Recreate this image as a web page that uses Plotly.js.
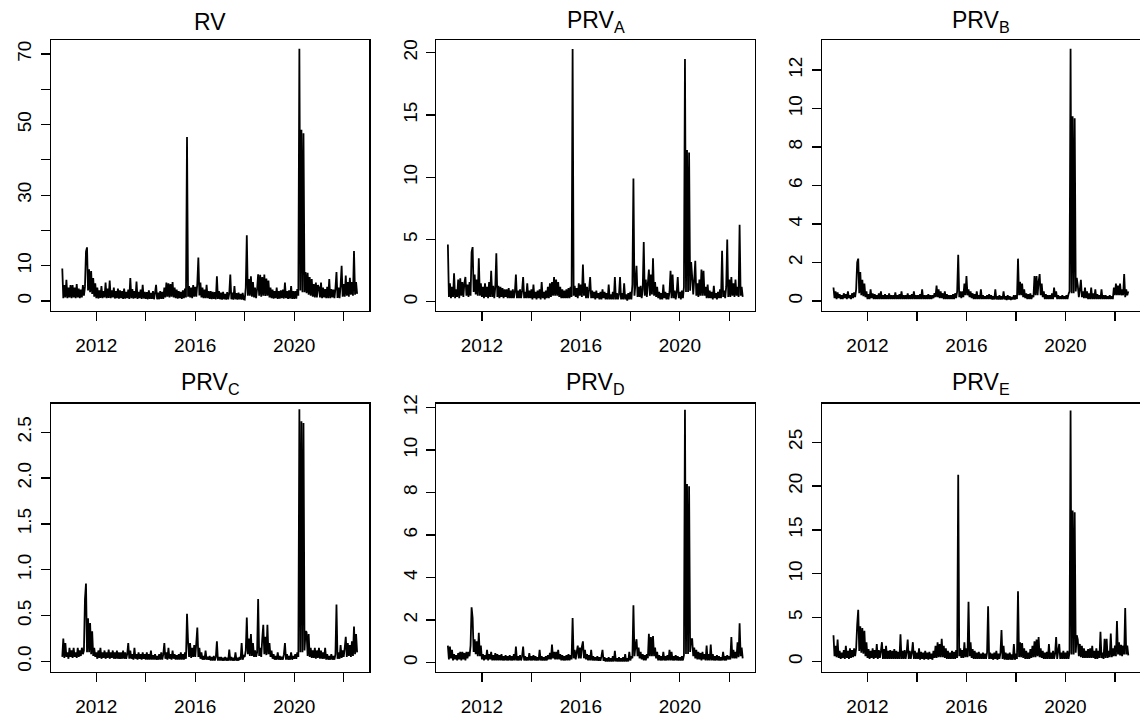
<!DOCTYPE html>
<html>
<head>
<meta charset="utf-8">
<script src="https://cdn.plot.ly/plotly-3.0.1.min.js"></script>
<style>html,body{margin:0;padding:0;background:#fff;}#chart{width:1140px;height:719px;}</style>
</head>
<body>
<div id="chart"></div>
<script>
// Semi-monthly observations (1st and 16th of each month), Aug-16 2010 .. Jul-16 2022
const seriesStart = 2010 + 15 / 24;
const seriesFreq = 24;

const titles = ['RV', 'PRV<sub>A</sub>', 'PRV<sub>B</sub>', 'PRV<sub>C</sub>', 'PRV<sub>D</sub>', 'PRV<sub>E</sub>'];

const rv = [
  9.2, 0.8, 4.5, 1.0, 6.0, 0.8, 3.8, 1.0, 4.5,
  0.8, 4.5, 1.0, 3.8, 0.8, 4.8, 1.0, 3.5, 0.8, 3.2, 1.0, 4.5, 1.5, 4.0, 14.0, 15.2, 3.0, 9.0, 2.5, 8.5, 2.0, 6.5, 1.2, 5.0,
  0.8, 3.8, 0.7, 3.0, 0.9, 4.2, 0.8, 2.8, 1.0, 5.2, 0.8, 3.5, 0.9, 5.8, 0.8, 3.0, 1.0, 3.8, 0.7, 2.8, 0.8, 3.5, 0.7, 3.0,
  0.8, 2.8, 0.6, 3.5, 0.7, 2.6, 0.8, 3.2, 0.6, 6.5, 0.8, 3.4, 0.7, 2.8, 0.8, 5.5, 0.6, 2.6, 0.8, 3.2, 0.6, 4.6, 0.7, 2.6,
  0.6, 2.5, 0.5, 3.0, 0.6, 2.3, 0.6, 2.8, 0.5, 2.4, 4.6, 0.5, 2.4, 0.5, 2.8, 0.6, 2.6, 0.6, 3.8, 1.0, 5.2, 1.2, 5.0, 1.0,
  4.8, 1.2, 5.4, 1.0, 3.8, 0.8, 3.2, 0.7, 2.8, 0.8, 2.6, 0.6, 3.0, 0.8, 3.5, 1.0, 46.5, 1.2, 4.2, 1.0, 3.8, 0.8, 4.5, 1.2,
  4.0, 1.2, 5.0, 12.3, 1.6, 5.2, 1.0, 3.8, 0.8, 3.2, 0.8, 4.6, 0.8, 2.8, 0.6, 2.8, 0.5, 2.6, 0.6, 2.5, 0.5, 7.0, 0.6, 2.8,
  0.5, 2.4, 0.4, 2.6, 0.5, 2.0, 0.4, 2.5, 0.5, 2.2, 7.5, 0.5, 2.4, 0.4, 4.2, 0.5, 2.2, 0.4, 2.4, 0.5, 2.0, 0.4, 2.3, 0.5,
  0.4, 3.8, 18.6, 1.5, 6.2, 1.5, 7.0, 1.2, 5.4, 1.0, 3.8, 0.8, 3.4, 7.6, 1.5, 7.4, 1.2, 6.8, 1.5, 7.5, 1.4, 6.4, 1.5, 5.8,
  1.0, 3.8, 0.8, 3.2, 0.7, 2.8, 0.8, 3.8, 0.6, 2.8, 0.7, 3.0, 0.8, 3.2, 0.7, 5.2, 0.8, 2.8, 0.6, 3.0, 0.7, 4.2, 0.6, 2.8,
  0.6, 2.8, 0.7, 3.4, 1.5, 71.5, 3.0, 48.5, 2.5, 47.5, 2.5, 8.2, 2.2, 8.0, 1.8, 6.8, 1.5, 6.2, 1.2, 4.8, 1.0, 5.2, 1.0, 4.5,
  3.8, 1.0, 5.2, 0.8, 3.8, 1.0, 3.4, 0.8, 4.0, 0.8, 6.2, 0.8, 3.4, 1.0, 3.2, 0.8, 3.6, 8.2, 0.9, 3.8, 0.8, 4.4, 10.0, 1.2,
  4.8, 1.2, 7.2, 1.5, 5.4, 1.2, 6.6, 1.8, 5.4, 1.5, 14.2, 1.8, 5.4, 2.0
];

const prvA = [
  4.6, 0.4, 1.5, 0.3, 1.2, 0.4, 2.3, 0.3, 1.0,
  0.4, 1.8, 0.3, 1.9, 0.5, 1.6, 0.4, 1.5, 2.0, 0.5, 1.4, 0.4, 1.6, 0.5, 4.0, 4.4, 0.8, 2.2, 0.6, 1.8, 0.5, 3.5, 0.5, 1.5,
  0.4, 1.2, 0.3, 1.5, 0.4, 1.2, 0.3, 1.6, 0.4, 2.5, 0.4, 1.3, 0.3, 1.2, 3.9, 0.4, 1.3, 0.3, 1.2, 0.4, 1.1, 0.3, 1.0, 0.4,
  1.0, 0.3, 1.1, 0.3, 0.9, 0.3, 1.0, 0.3, 0.8, 2.2, 0.3, 0.9, 0.3, 1.0, 0.3, 0.9, 2.0, 0.3, 0.8, 0.3, 1.5, 0.3, 0.9, 0.3,
  1.0, 0.2, 1.4, 0.3, 0.8, 0.2, 0.9, 0.3, 1.0, 0.2, 1.6, 0.3, 0.8, 0.2, 0.9, 0.3, 1.2, 0.3, 1.5, 0.4, 1.6, 0.5, 2.0, 0.5,
  1.8, 0.5, 1.6, 0.4, 1.2, 0.3, 1.0, 0.3, 0.9, 0.3, 1.0, 0.3, 1.1, 0.3, 1.2, 0.4, 20.3, 0.5, 1.3, 0.4, 1.1, 0.3, 1.5, 0.5,
  1.4, 0.4, 3.0, 0.5, 1.5, 0.3, 1.2, 0.3, 1.0, 2.0, 0.3, 0.9, 0.3, 0.8, 0.2, 0.9, 0.3, 0.7, 0.2, 0.8, 0.2, 1.0, 0.3, 0.8,
  0.2, 0.7, 0.2, 1.4, 0.2, 0.6, 0.2, 0.8, 0.2, 2.0, 0.2, 0.7, 0.2, 0.6, 2.0, 0.2, 0.7, 0.2, 1.5, 0.2, 0.6, 0.1, 0.7, 0.2,
  0.8, 0.2, 1.4, 9.9, 0.5, 1.5, 2.9, 0.4, 1.2, 0.4, 1.3, 0.3, 1.0, 4.8, 0.5, 1.8, 0.4, 1.5, 2.6, 0.5, 2.2, 0.6, 3.5, 0.5,
  1.6, 0.4, 1.2, 0.3, 0.8, 0.2, 0.7, 0.2, 1.4, 0.3, 0.8, 0.2, 0.7, 0.2, 0.8, 2.5, 0.3, 2.2, 0.3, 0.9, 0.2, 0.8, 2.0, 0.3,
  0.8, 0.2, 0.9, 0.3, 1.2, 19.5, 0.8, 12.2, 0.8, 12.0, 0.9, 3.2, 2.0, 0.6, 1.8, 3.3, 0.5, 1.5, 0.4, 1.8, 0.5, 2.6, 0.5, 2.5,
  0.5, 1.2, 0.3, 1.4, 0.3, 0.9, 0.3, 0.8, 0.2, 1.3, 0.3, 0.7, 0.2, 0.8, 0.3, 1.0, 0.3, 4.1, 0.4, 0.9, 0.3, 1.2, 5.0, 0.4,
  1.8, 0.4, 2.0, 0.5, 1.5, 0.4, 1.8, 0.5, 1.2, 0.4, 6.2, 0.5, 1.2, 0.4
];

const prvB = [
  0.7, 0.15, 0.5, 0.1, 0.45, 0.15, 0.35, 0.1, 0.3,
  0.1, 0.4, 0.15, 0.35, 0.1, 0.5, 0.15, 0.3, 0.1, 0.4, 0.15, 0.45, 0.2, 0.6, 2.0, 2.2, 0.4, 1.5, 0.3, 1.1, 0.25, 0.9, 0.2, 0.5,
  0.1, 0.35, 0.1, 0.6, 0.15, 0.4, 0.1, 0.35, 0.1, 0.3, 0.1, 0.4, 0.1, 0.5, 0.1, 0.3, 0.1, 0.35, 0.1, 0.3, 0.1, 0.4, 0.1, 0.3,
  0.1, 0.3, 0.1, 0.45, 0.1, 0.3, 0.1, 0.35, 0.1, 0.5, 0.1, 0.3, 0.1, 0.3, 0.1, 0.4, 0.1, 0.3, 0.1, 0.35, 0.1, 0.5, 0.1, 0.3,
  0.1, 0.3, 0.1, 0.35, 0.1, 0.6, 0.1, 0.3, 0.1, 0.3, 0.1, 0.35, 0.1, 0.3, 0.1, 0.3, 0.15, 0.4, 0.2, 0.8, 0.2, 0.6, 0.15, 0.5,
  0.15, 0.4, 0.1, 0.5, 0.1, 0.35, 0.1, 0.3, 0.1, 0.3, 0.1, 0.35, 0.1, 0.4, 0.15, 0.5, 2.4, 0.2, 0.5, 0.15, 0.5, 0.2, 0.9, 0.3,
  1.3, 0.3, 0.6, 0.2, 0.5, 0.15, 0.4, 0.1, 0.35, 0.1, 0.5, 0.1, 0.3, 0.1, 0.6, 0.1, 0.3, 0.1, 0.25, 0.1, 0.3, 0.1, 0.35, 0.1,
  0.3, 0.08, 0.25, 0.08, 0.6, 0.08, 0.25, 0.08, 0.3, 0.08, 0.25, 0.08, 0.5, 0.08, 0.25, 0.05, 0.3, 0.08, 0.25, 0.05, 0.2, 0.08, 0.3, 0.08,
  0.3, 0.1, 2.2, 0.3, 1.0, 0.3, 0.9, 0.2, 0.6, 0.15, 0.4, 0.1, 0.35, 0.1, 0.4, 0.1, 0.3, 0.2, 1.3, 0.3, 1.3, 0.3, 1.0, 1.4,
  0.3, 0.9, 0.2, 0.5, 0.1, 0.35, 0.1, 0.3, 0.1, 0.3, 0.1, 0.4, 0.1, 0.7, 0.2, 0.5, 0.1, 0.3, 0.1, 0.25, 0.1, 0.3, 0.1, 0.25,
  0.1, 0.3, 0.1, 0.35, 0.5, 13.1, 0.4, 9.6, 0.4, 9.5, 0.5, 1.2, 0.8, 0.2, 0.6, 1.1, 0.2, 0.5, 0.15, 0.7, 0.15, 0.5, 0.1, 0.4,
  0.1, 0.7, 0.1, 0.4, 0.1, 0.6, 0.1, 0.35, 0.1, 0.3, 0.1, 0.6, 0.1, 0.3, 0.1, 0.3, 0.1, 0.25, 0.1, 0.3, 0.1, 0.25, 0.1, 0.7,
  0.3, 0.9, 0.3, 0.8, 0.3, 0.9, 0.3, 0.6, 0.3, 1.4, 0.2, 0.6, 0.3, 0.5
];

const prvC = [
  0.05, 0.25, 0.04, 0.2, 0.05, 0.1, 0.03, 0.15, 0.05,
  0.12, 0.04, 0.15, 0.05, 0.1, 0.04, 0.15, 0.05, 0.12, 0.06, 0.15, 0.08, 0.12, 0.68, 0.85, 0.1, 0.47, 0.1, 0.42, 0.08, 0.33, 0.06, 0.15, 0.05,
  0.1, 0.03, 0.12, 0.04, 0.15, 0.03, 0.1, 0.04, 0.12, 0.03, 0.1, 0.04, 0.13, 0.03, 0.1, 0.04, 0.12, 0.03, 0.1, 0.03, 0.12, 0.03, 0.1, 0.03,
  0.1, 0.03, 0.12, 0.03, 0.1, 0.03, 0.08, 0.2, 0.03, 0.12, 0.03, 0.08, 0.02, 0.15, 0.03, 0.08, 0.02, 0.1, 0.03, 0.08, 0.02, 0.1, 0.03, 0.08,
  0.02, 0.1, 0.02, 0.08, 0.02, 0.12, 0.02, 0.07, 0.02, 0.08, 0.02, 0.06, 0.02, 0.08, 0.02, 0.1, 0.02, 0.08, 0.2, 0.03, 0.1, 0.02, 0.15, 0.03,
  0.08, 0.02, 0.12, 0.03, 0.08, 0.02, 0.07, 0.02, 0.08, 0.02, 0.1, 0.02, 0.08, 0.02, 0.1, 0.03, 0.52, 0.22, 0.05, 0.2, 0.04, 0.15, 0.05, 0.18,
  0.05, 0.2, 0.37, 0.05, 0.15, 0.03, 0.1, 0.02, 0.06, 0.02, 0.12, 0.02, 0.05, 0.02, 0.06, 0.01, 0.05, 0.01, 0.06, 0.01, 0.05, 0.22, 0.01, 0.05,
  0.01, 0.05, 0.01, 0.04, 0.01, 0.05, 0.01, 0.04, 0.01, 0.13, 0.01, 0.05, 0.01, 0.04, 0.01, 0.1, 0.01, 0.04, 0.01, 0.05, 0.02, 0.2, 0.02, 0.06,
  0.05, 0.12, 0.48, 0.08, 0.25, 0.06, 0.3, 0.06, 0.2, 0.05, 0.12, 0.05, 0.1, 0.68, 0.06, 0.15, 0.05, 0.25, 0.4, 0.08, 0.27, 0.07, 0.4, 0.08,
  0.2, 0.05, 0.12, 0.03, 0.08, 0.02, 0.06, 0.02, 0.1, 0.02, 0.06, 0.02, 0.05, 0.02, 0.08, 0.2, 0.02, 0.08, 0.02, 0.06, 0.02, 0.1, 0.02, 0.06,
  0.03, 0.08, 0.03, 0.1, 0.05, 2.75, 0.1, 2.62, 0.1, 2.6, 0.12, 0.33, 0.32, 0.06, 0.3, 0.05, 0.15, 0.04, 0.12, 0.04, 0.15, 0.03, 0.12, 0.04,
  0.15, 0.03, 0.12, 0.03, 0.1, 0.03, 0.15, 0.02, 0.08, 0.02, 0.06, 0.02, 0.08, 0.02, 0.06, 0.02, 0.08, 0.62, 0.03, 0.1, 0.03, 0.18, 0.04, 0.12,
  0.05, 0.15, 0.27, 0.05, 0.2, 0.06, 0.18, 0.05, 0.22, 0.06, 0.38, 0.08, 0.3, 0.1
];

const prvD = [
  0.8, 0.15, 0.75, 0.2, 0.6, 0.1, 0.4, 0.15, 0.35,
  0.1, 0.45, 0.15, 0.5, 0.1, 0.5, 0.15, 0.45, 0.1, 0.5, 0.2, 0.5, 0.3, 0.8, 2.6, 2.1, 0.5, 1.1, 0.4, 1.0, 0.3, 1.4, 0.3, 0.8,
  0.15, 0.4, 0.1, 0.35, 0.15, 0.6, 0.1, 0.4, 0.15, 0.5, 0.1, 0.35, 0.1, 0.45, 0.1, 0.4, 0.1, 0.35, 0.1, 0.4, 0.1, 0.3, 0.1, 0.35,
  0.1, 0.3, 0.1, 0.35, 0.1, 0.3, 0.1, 0.4, 0.1, 0.75, 0.1, 0.3, 0.1, 0.35, 0.1, 0.3, 0.75, 0.1, 0.3, 0.1, 0.25, 0.1, 0.45, 0.1,
  0.3, 0.1, 0.35, 0.1, 0.3, 0.1, 0.25, 0.1, 0.6, 0.1, 0.3, 0.1, 0.25, 0.1, 0.3, 0.1, 0.35, 0.15, 0.45, 0.15, 0.85, 0.2, 0.5, 0.15,
  0.5, 0.15, 0.6, 0.15, 0.4, 0.1, 0.35, 0.1, 0.3, 0.1, 0.35, 0.1, 0.4, 0.1, 0.35, 0.15, 2.1, 0.2, 0.6, 0.15, 0.5, 0.8, 0.2, 0.7,
  0.2, 0.75, 1.0, 0.2, 0.6, 0.15, 0.4, 0.1, 0.35, 0.1, 0.6, 0.1, 0.3, 0.1, 0.25, 0.1, 0.3, 0.08, 0.25, 0.08, 0.3, 0.6, 0.08, 0.25,
  0.05, 0.2, 0.05, 0.25, 0.05, 0.2, 0.05, 0.3, 0.05, 0.55, 0.05, 0.2, 0.05, 0.25, 0.05, 0.2, 0.05, 0.25, 0.05, 0.4, 0.05, 0.2, 0.05, 0.5,
  0.1, 0.3, 0.2, 2.7, 0.3, 0.8, 1.1, 0.3, 0.7, 0.2, 0.5, 0.15, 0.4, 0.1, 0.35, 0.1, 0.4, 0.2, 1.35, 0.3, 1.2, 0.3, 1.25, 0.3,
  0.7, 0.2, 0.5, 0.1, 0.35, 0.1, 0.3, 0.1, 0.5, 0.1, 0.3, 0.1, 0.35, 0.1, 0.6, 0.1, 0.5, 0.1, 0.3, 0.1, 0.35, 0.1, 0.3, 0.1,
  0.25, 0.1, 0.3, 0.1, 0.35, 11.9, 0.4, 8.4, 0.4, 8.3, 0.5, 1.1, 1.1, 0.3, 0.7, 0.2, 0.6, 0.15, 0.5, 0.15, 0.45, 0.1, 0.5, 0.15,
  0.4, 0.1, 0.8, 0.1, 0.4, 0.1, 0.85, 0.1, 0.4, 0.1, 0.3, 0.1, 0.35, 0.1, 0.3, 0.1, 0.25, 0.1, 0.5, 0.1, 0.3, 0.1, 0.35, 0.15,
  0.3, 0.15, 1.2, 0.2, 0.6, 0.2, 0.5, 0.2, 0.95, 0.25, 1.85, 0.3, 0.7, 0.2
];

const prvE = [
  3.0, 0.6, 1.8, 0.5, 2.5, 0.4, 1.2, 0.3, 1.0,
  0.4, 1.3, 0.3, 1.8, 0.4, 1.2, 0.3, 1.5, 0.4, 1.3, 0.5, 1.5, 0.6, 1.5, 4.2, 5.9, 1.2, 4.0, 1.0, 3.8, 0.9, 3.5, 0.6, 2.2,
  0.4, 1.4, 0.3, 1.2, 0.4, 1.5, 0.3, 1.3, 0.4, 2.0, 0.3, 1.3, 0.4, 1.2, 2.2, 0.3, 1.4, 0.3, 1.8, 0.3, 1.2, 0.3, 1.3, 0.3,
  1.2, 0.3, 1.4, 0.3, 1.2, 0.3, 1.1, 0.3, 3.1, 0.3, 1.2, 0.3, 1.3, 0.3, 1.1, 2.5, 0.3, 1.2, 0.3, 1.0, 2.2, 0.3, 1.2, 0.3,
  1.0, 0.3, 1.5, 0.2, 1.1, 0.3, 1.0, 0.2, 1.2, 0.3, 1.0, 0.2, 1.1, 0.3, 0.9, 0.2, 1.2, 0.4, 1.8, 0.4, 2.2, 0.5, 2.0, 0.5,
  2.6, 0.5, 1.8, 0.4, 1.5, 0.3, 1.2, 0.3, 1.0, 0.3, 1.2, 0.3, 1.1, 0.3, 1.3, 0.4, 21.3, 0.6, 1.5, 0.4, 1.3, 0.4, 2.2, 0.5,
  1.5, 0.5, 6.8, 0.6, 2.2, 0.4, 1.4, 0.3, 1.2, 0.3, 1.0, 0.3, 1.1, 0.3, 0.9, 0.3, 1.0, 0.3, 0.9, 0.3, 1.0, 6.3, 0.3, 1.0,
  0.3, 0.9, 0.2, 1.0, 0.3, 1.2, 0.2, 0.9, 0.3, 1.0, 3.6, 0.3, 1.8, 0.2, 1.0, 0.2, 0.9, 0.2, 1.0, 0.2, 0.8, 0.2, 2.0, 0.2,
  0.9, 0.3, 8.0, 0.5, 2.2, 0.5, 2.1, 0.4, 1.5, 0.3, 1.2, 0.3, 1.0, 0.3, 1.4, 0.4, 1.8, 0.5, 2.3, 0.5, 2.5, 0.6, 2.8, 0.5,
  1.5, 0.4, 1.2, 0.3, 1.0, 0.3, 1.1, 0.3, 2.0, 0.3, 1.0, 0.3, 1.2, 0.3, 0.9, 2.8, 0.3, 1.2, 2.0, 0.3, 1.0, 0.3, 1.2, 0.3,
  1.0, 0.3, 1.2, 0.3, 1.0, 28.6, 0.8, 17.2, 0.8, 17.0, 1.0, 3.0, 2.5, 0.6, 2.0, 0.5, 1.8, 0.4, 1.5, 0.4, 1.2, 0.4, 1.4, 0.4,
  1.5, 0.4, 1.8, 0.4, 1.2, 0.3, 1.5, 0.3, 1.2, 0.4, 3.4, 0.4, 1.0, 0.3, 2.6, 0.4, 2.6, 0.4, 1.2, 0.5, 3.2, 0.5, 1.5, 0.6,
  1.8, 0.6, 4.6, 0.8, 2.2, 0.7, 1.9, 0.6, 1.8, 0.8, 6.1, 0.8, 1.8, 0.7
];

const xMajorTicks = [2012, 2016, 2020];
const xMinorTicks = [2014, 2018, 2022];

const yMajorTicks = [
  [0, 10, 30, 50, 70],
  [0, 5, 10, 15, 20],
  [0, 2, 4, 6, 8, 10, 12],
  [0, 0.5, 1, 1.5, 2, 2.5],
  [0, 2, 4, 6, 8, 10, 12],
  [0, 5, 10, 15, 20, 25]
];
const yMinorTicks = [[20, 40, 60], [], [], [], [], []];
const yTickFormat = ['', '', '', '.1f', '', ''];

const allSeries = [rv, prvA, prvB, prvC, prvD, prvE];

// ---------- layout geometry (pixels) ----------
const W = 1140, H = 719;
const pxPerYear = 24.74;
const xStartYear = 2010.157;
const panelLeft = [50.7, 436.3, 821.9];
const panelWidth = [318.6, 318.6, 317.6];
const rowTop = [40, 403.5];
const rowBottom = [311, 671.5];
const yRanges = [[-2.83, 73.96], [-0.73, 21.02], [-0.52, 13.56], [-0.109, 2.813], [-0.42, 12.19], [-1.14, 29.41]];
const titleY = [21.5, 383];

const font = 'Liberation Sans, Arial, Helvetica, sans-serif';
const data = [];
const layout = {
  width: W, height: H,
  margin: {l: 0, r: 0, t: 0, b: 0, pad: 0},
  paper_bgcolor: '#fff', plot_bgcolor: '#fff',
  showlegend: false,
  font: {family: font, color: '#000'},
  annotations: []
};

allSeries.forEach((vals, k) => {
  const t = vals.map((_, i) => seriesStart + i / seriesFreq);
  const col = k % 3, row = Math.floor(k / 3);
  const n = k + 1;
  const xa = n === 1 ? 'x' : 'x' + n;
  const ya = n === 1 ? 'y' : 'y' + n;
  data.push({
    x: t, y: vals, type: 'scatter', mode: 'lines',
    line: {color: '#000', width: 1.8, simplify: false},
    xaxis: xa, yaxis: ya, hoverinfo: 'skip'
  });
  const L = panelLeft[col], Wd = panelWidth[col];
  const xKey = n === 1 ? 'xaxis' : 'xaxis' + n;
  const yKey = n === 1 ? 'yaxis' : 'yaxis' + n;
  layout[xKey] = {
    domain: [L / W, Math.min(1, (L + Wd) / W)],
    range: [xStartYear, xStartYear + Wd / pxPerYear],
    anchor: ya,
    showgrid: false, zeroline: false,
    showline: true, mirror: true, linecolor: '#000', linewidth: 1.2,
    ticks: 'outside', ticklen: 9, tickwidth: 1.2, tickcolor: '#000',
    tickmode: 'array', tickvals: xMajorTicks, ticktext: xMajorTicks.map(String),
    minor: {tickmode: 'array', tickvals: xMinorTicks, ticks: 'outside', ticklen: 9, tickwidth: 1.2, tickcolor: '#000', showgrid: false},
    tickfont: {family: font, size: 19, color: '#000'},
    ticklabelstandoff: 8
  };
  const yax = {
    domain: [1 - rowBottom[row] / H, 1 - rowTop[row] / H],
    range: yRanges[k],
    anchor: xa,
    showgrid: false, zeroline: false,
    showline: true, mirror: true, linecolor: '#000', linewidth: 1.2,
    ticks: 'outside', ticklen: 9, tickwidth: 1.2, tickcolor: '#000',
    tickmode: 'array', tickvals: yMajorTicks[k],
    tickangle: -90,
    tickfont: {family: font, size: 19, color: '#000'},
    ticklabelstandoff: 2
  };
  if (yTickFormat[k]) yax.tickformat = yTickFormat[k];
  if (yMinorTicks[k].length) {
    yax.minor = {tickmode: 'array', tickvals: yMinorTicks[k], ticks: 'outside', ticklen: 9, tickwidth: 1.2, tickcolor: '#000', showgrid: false};
  }
  layout[yKey] = yax;
  layout.annotations.push({
    text: titles[k], xref: 'paper', yref: 'paper',
    x: (L + 318.6 / 2) / W, y: 1 - titleY[row] / H,
    xanchor: 'center', yanchor: 'middle', showarrow: false,
    font: {family: font, size: 23, color: '#000'}
  });
});

Plotly.newPlot('chart', data, layout, {displayModeBar: false, staticPlot: true});
</script>
</body>
</html>
